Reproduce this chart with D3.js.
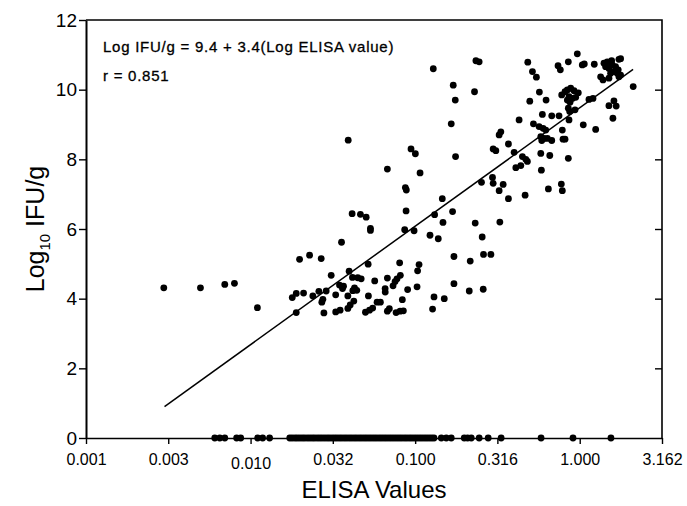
<!DOCTYPE html>
<html>
<head>
<meta charset="utf-8">
<script src="https://cdn.jsdelivr.net/npm/d3@7"></script>
<style>
  html, body { margin: 0; padding: 0; background: #fff; }
  svg { display: block; }
  text { font-family: "Liberation Sans", Arial, Helvetica, sans-serif; fill: #000; }
</style>
</head>
<body>
<svg id="chart" width="687" height="506"></svg>
<script>
// ---- Data ----
const xTickValues = [0.001, 0.00316, 0.01, 0.0316, 0.1, 0.316, 1.0, 3.162];
const xTickLabels = ["0.001", "0.003", "0.010", "0.032", "0.100", "0.316", "1.000", "3.162"];
const yTickValues = [0, 2, 4, 6, 8, 10, 12];

// positive samples: ELISA value and log10 IFU/g
const elisaPos = [
  0.00297, 0.00496, 0.00697, 0.00798, 0.0110, 0.01985, 0.02283, 0.02687, 0.0309, 0.01792,
  0.01895, 0.02099, 0.0239, 0.0260, 0.0288, 0.0275, 0.0271, 0.0329, 0.01895, 0.0279,
  0.0329, 0.0347, 0.0357, 0.1704, 0.2295, 0.1753, 0.1657, 0.0392, 0.0944, 0.1003,
  0.1760, 0.0678, 0.1071, 0.2530, 0.0872, 0.0884, 0.1462, 0.0881, 0.1688, 0.0414,
  0.0465, 0.0504, 0.1313, 0.1476, 0.2317, 0.0535, 0.0535, 0.0864, 0.0985, 0.1231,
  0.1382, 0.2555, 0.2602, 0.2886, 0.1721, 0.2161, 0.0518, 0.0805, 0.1056, 0.1035,
  0.0397, 0.0416, 0.0448, 0.0470, 0.0813, 0.0776, 0.0755, 0.0734, 0.0678, 0.0568,
  0.0367, 0.0362, 0.0428, 0.0442, 0.0418, 0.0657, 0.0658, 0.0900, 0.1027, 0.1721,
  0.2132, 0.2592, 0.0390, 0.0520, 0.1302, 0.1503, 0.0424, 0.0403, 0.0390, 0.0587,
  0.0615, 0.0836, 0.0552, 0.0528, 0.0499, 0.0697, 0.0678, 0.0766, 0.0810, 0.0848,
  0.0350, 0.1276, 0.1289, 0.2340, 0.2449,
  0.4835, 0.5160, 0.5454, 0.7384, 0.7624, 0.8526, 0.9667, 1.0366, 1.066, 1.226,
  1.404, 1.470, 1.563, 1.731, 1.772, 1.437, 1.505, 1.576, 1.652, 1.714,
  1.614, 1.541, 1.690, 1.772, 1.340, 1.385, 1.505, 1.731, 2.113, 0.5687,
  0.4973, 0.6245, 0.7773, 0.8141, 0.8408, 0.8817, 0.9232, 0.9804, 0.8610, 0.9016,
  0.9454, 0.8408, 0.8730, 1.138, 1.204, 1.505, 1.614, 1.666, 1.591, 1.051,
  1.250, 0.8526, 0.8694, 0.9363, 0.8610, 0.7487, 0.6761, 0.5929, 0.4282, 0.5233,
  0.5662, 0.5990, 0.6220, 0.7839, 0.5800, 0.6073, 0.6359, 0.6761, 0.5881, 0.7917,
  0.8141, 0.3239, 0.3317, 0.2979, 0.3093, 0.3688, 0.3995, 0.4485, 0.4703, 0.4809,
  0.4386, 0.4091, 0.5800, 0.6577, 0.8526, 0.5848, 0.2951, 0.2979, 0.3239, 0.3426,
  0.3688, 0.4658, 0.6450, 0.7731, 0.7839, 0.3271
];
const logIfuPos = [
  4.31, 4.31, 4.41, 4.44, 3.74, 5.13, 5.25, 5.15, 4.67, 4.03,
  4.15, 4.16, 4.08, 4.21, 4.22, 3.98, 3.90, 4.11, 3.60, 3.59,
  3.62, 4.39, 5.62, 10.13, 9.94, 9.70, 9.02, 8.55, 8.30, 8.16,
  8.08, 7.72, 7.61, 7.34, 7.19, 7.12, 6.87, 6.52, 6.50, 6.44,
  6.42, 6.34, 6.41, 6.19, 6.17, 6.02, 5.96, 5.98, 5.95, 5.82,
  5.72, 5.77, 5.27, 5.27, 5.21, 5.08, 4.99, 5.03, 4.98, 4.80,
  4.79, 4.61, 4.60, 4.57, 4.67, 4.57, 4.49, 4.37, 4.59, 4.51,
  4.36, 4.29, 4.31, 4.24, 4.23, 4.29, 4.19, 4.26, 4.34, 4.43,
  4.22, 4.27, 4.08, 4.08, 4.05, 4.00, 3.93, 3.82, 3.72, 3.90,
  3.90, 3.97, 3.73, 3.67, 3.61, 3.71, 3.64, 3.60, 3.64, 3.65,
  3.67, 3.70, 10.60, 10.83, 10.80,
  10.79, 10.52, 10.36, 10.69, 10.57, 10.80, 11.03, 10.71, 10.74, 10.73,
  10.76, 10.80, 10.83, 10.87, 10.89, 10.66, 10.61, 10.71, 10.66, 10.57,
  10.52, 10.47, 10.47, 10.42, 10.37, 10.28, 10.33, 10.37, 10.09, 9.93,
  9.67, 9.70, 9.85, 9.94, 9.99, 10.04, 9.97, 9.91, 9.80, 9.75,
  9.78, 9.70, 9.64, 9.72, 9.75, 9.54, 9.68, 9.53, 9.18, 8.99,
  8.86, 9.47, 9.37, 9.42, 9.13, 9.25, 9.25, 9.29, 9.13, 9.02,
  8.94, 8.89, 8.84, 8.84, 8.65, 8.60, 8.60, 8.54, 8.54, 8.58,
  8.58, 8.70, 8.79, 8.30, 8.25, 8.44, 8.20, 8.08, 8.00, 7.94,
  7.82, 7.76, 8.17, 8.11, 8.03, 7.69, 7.48, 7.31, 7.10, 7.28,
  6.87, 6.97, 7.15, 7.29, 7.10, 6.20
];

// negative samples (log10 IFU/g = 0): ELISA values
const elisaZero = [
  0.00606, 0.00650, 0.00697, 0.00823, 0.00871, 0.01104, 0.01184, 0.01305,
  0.0173, 0.0179, 0.0186, 0.0192, 0.0199, 0.0206, 0.0213, 0.0221, 0.0229, 0.0237,
  0.0245, 0.0254, 0.0263, 0.0272, 0.0282, 0.0292, 0.0302, 0.0313, 0.0324, 0.0335,
  0.0347, 0.0359, 0.0372, 0.0385, 0.0399, 0.0413, 0.0428, 0.0443, 0.0459, 0.0475,
  0.0492, 0.0509, 0.0527, 0.0546, 0.0565, 0.0585, 0.0606, 0.0627, 0.0649, 0.0672,
  0.0696, 0.0721, 0.0746, 0.0773, 0.0800, 0.0828, 0.0858, 0.0888, 0.0920, 0.0952,
  0.0986, 0.1021, 0.1057, 0.1094, 0.1133, 0.1173, 0.1215, 0.1258, 0.1302,
  0.1442, 0.1546, 0.1657, 0.1988, 0.2082, 0.2192, 0.2449, 0.2779, 0.3331,
  0.5824, 0.9102, 1.548
];

// regression line: Log IFU/g = a + b * log(ELISA), drawn over the data range
const fitIntercept = 9.48;
const fitSlope = 3.4;
const fitRange = [0.0030, 2.11];

const annotationLines = ["Log IFU/g = 9.4 + 3.4(Log ELISA value)", "r = 0.851"];

// ---- Drawing ----
(function draw() {
  const svg = d3.select("#chart");
  const mLeft = 86, mRight = 662, mTop = 20, mBottom = 438;

  const x = d3.scaleLog().domain([0.001, 3.162]).range([mLeft, mRight]);
  const y = d3.scaleLinear().domain([0, 12]).range([mBottom, mTop]);

  // frame (top and right)
  svg.append("path")
    .attr("d", `M${mLeft},${mTop}H${mRight}V${mBottom}`)
    .attr("fill", "none").attr("stroke", "#000").attr("stroke-width", 1.6);

  // bottom axis
  const xAxis = svg.append("g").attr("transform", `translate(0,${mBottom})`)
    .call(d3.axisBottom(x).tickValues(xTickValues).tickSize(6).tickSizeOuter(0)
      .tickFormat((d, i) => xTickLabels[i]));
  xAxis.select(".domain").attr("stroke-width", 1.6);
  xAxis.selectAll(".tick line").attr("stroke-width", 1.4);
  xAxis.selectAll(".tick text")
    .attr("font-size", 16)
    .attr("font-family", "Liberation Sans, Arial, sans-serif")
    .attr("dy", (d, i) => i === 2 ? "1.4em" : "1.1em");

  // left axis
  const yAxis = svg.append("g").attr("transform", `translate(${mLeft},0)`)
    .call(d3.axisLeft(y).tickValues(yTickValues).tickSize(7).tickSizeOuter(0)
      .tickFormat(d3.format("d")));
  yAxis.select(".domain").attr("stroke-width", 2);
  yAxis.selectAll(".tick line").attr("stroke-width", 1.4);
  yAxis.selectAll(".tick text")
    .attr("font-size", 19)
    .attr("font-family", "Liberation Sans, Arial, sans-serif")
    .attr("x", -9);

  // right side inward ticks
  const rAxis = svg.append("g").attr("transform", `translate(${mRight},0)`)
    .call(d3.axisLeft(y).tickValues(yTickValues.slice(1, -1)).tickSize(7).tickSizeOuter(0).tickFormat(""));
  rAxis.select(".domain").remove();
  rAxis.selectAll(".tick line").attr("stroke-width", 1.4);

  // axis titles
  svg.append("text")
    .attr("x", 374).attr("y", 498)
    .attr("text-anchor", "middle").attr("font-size", 24)
    .text("ELISA Values");

  const yt = svg.append("text")
    .attr("transform", `translate(44,${(mTop + mBottom) / 2}) rotate(-90)`)
    .attr("text-anchor", "middle").attr("font-size", 25);
  yt.append("tspan").text("Log");
  yt.append("tspan").attr("font-size", 15).attr("dy", 6).text("10");
  yt.append("tspan").attr("dy", -6).text(" IFU/g");

  // regression line
  svg.append("line")
    .attr("x1", x(fitRange[0])).attr("y1", y(fitIntercept + fitSlope * Math.log10(fitRange[0])))
    .attr("x2", x(fitRange[1])).attr("y2", y(fitIntercept + fitSlope * Math.log10(fitRange[1])))
    .attr("stroke", "#000").attr("stroke-width", 1.5);

  // points
  const pos = elisaPos.map((v, i) => ({ x: v, y: logIfuPos[i] }));
  const zero = elisaZero.map(v => ({ x: v, y: 0 }));
  svg.append("g").selectAll("circle").data(pos.concat(zero)).join("circle")
    .attr("cx", d => x(d.x)).attr("cy", d => y(d.y)).attr("r", 3.4).attr("fill", "#000");

  // annotation
  svg.append("g").selectAll("text").data(annotationLines).join("text")
    .attr("x", 103).attr("y", (d, i) => 52 + i * 29)
    .attr("font-family", "Liberation Sans, Arial, sans-serif")
    .attr("font-size", 15)
    .attr("letter-spacing", 0.75)
    .attr("stroke", "#000").attr("stroke-width", 0.3)
    .text(d => d);
})();
</script>
</body>
</html>
